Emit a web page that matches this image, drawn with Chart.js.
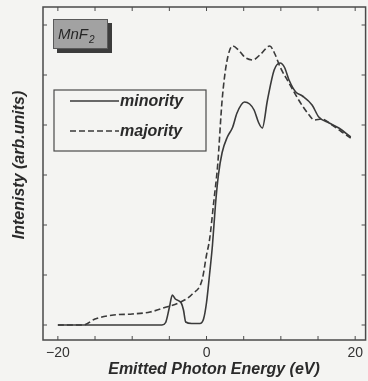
<!DOCTYPE html>
<html>
<head>
<meta charset="utf-8">
<script src="https://cdn.jsdelivr.net/npm/chart.js@4.4.1/dist/chart.umd.min.js"></script>
<style>
  html, body { margin: 0; padding: 0; background: #f4f4f2; }
  #wrap { width: 368px; height: 381px; }
</style>
</head>
<body>
<div id="wrap"><canvas id="spec"></canvas></div>
<script>
// Minority spin spectrum (solid)
const minorityEnergy = [-20, -6.0, -5.5, -5.0, -4.6, -4.2, -3.4, -3.1, -2.8, -2.0, -0.9, -0.4, 0, 0.4, 0.8, 1.2, 1.6, 2.1, 2.8, 3.5, 4.1, 5.1, 5.8, 6.4, 7.0, 7.5, 8.2, 9.1, 9.9, 10.5, 11.1, 12.0, 12.9, 14.2, 15.1, 16.5, 17.8, 19.4];
const minorityIntensity = [0, 0, 0.05, 0.35, 0.6, 0.52, 0.44, 0.3, 0.06, 0.03, 0.03, 0.12, 0.45, 1.0, 1.6, 2.4, 3.0, 3.45, 3.76, 3.95, 4.24, 4.46, 4.42, 4.3, 4.05, 3.94, 4.5, 5.1, 5.24, 5.15, 4.9, 4.66, 4.58, 4.4, 4.16, 4.04, 3.94, 3.76];

// Majority spin spectrum (dashed)
const majorityEnergy = [-20, -16.6, -15, -12.5, -10, -7.6, -5.4, -3.6, -1.9, -0.6, 0, 0.4, 1.0, 1.5, 2.1, 2.7, 3.5, 4.3, 5.2, 6.2, 7.3, 8.5, 9.2, 9.9, 11.1, 12.4, 13.8, 14.5, 15.5, 16.9, 18.2, 19.4];
const majorityIntensity = [0, 0, 0.12, 0.2, 0.22, 0.26, 0.36, 0.45, 0.62, 0.9, 1.4, 1.7, 2.5, 3.2, 4.5, 5.24, 5.58, 5.5, 5.35, 5.3, 5.42, 5.58, 5.42, 5.16, 4.84, 4.5, 4.2, 4.1, 4.12, 4.0, 3.86, 3.74];

const xLabels = [-20, 0, 20];
const yTickValues = [0, 1, 2, 3, 4, 5, 6];

const ink = '#3a3a3a';
const toPoints = (xs, ys) => xs.map((x, i) => ({ x: x, y: ys[i] }));

// Frame, inward ticks, legend, sample label, axis titles
const decor = {
    id: 'decor',
    beforeDraw(chart) {
        const ctx = chart.ctx;
        ctx.save();
        ctx.fillStyle = '#f4f4f2';
        ctx.fillRect(0, 0, chart.width, chart.height);
        ctx.restore();
    },
    afterDraw(chart) {
        const ctx = chart.ctx;
        const a = chart.chartArea;
        const xs = chart.scales.x, ys = chart.scales.y;
        ctx.save();
        ctx.strokeStyle = '#4a4a4a';
        ctx.lineWidth = 1.5;
        ctx.strokeRect(a.left, a.top, a.right - a.left, a.bottom - a.top);

        // ticks
        ctx.lineWidth = 1;
        ctx.beginPath();
        for (let v = -20; v <= 20; v += 5) {
            const px = xs.getPixelForValue(v);
            ctx.moveTo(px, a.bottom); ctx.lineTo(px, a.bottom - 4);
            ctx.moveTo(px, a.top); ctx.lineTo(px, a.top + 4);
        }
        yTickValues.forEach(v => {
            const py = ys.getPixelForValue(v);
            ctx.moveTo(a.left, py); ctx.lineTo(a.left + 4, py);
            ctx.moveTo(a.right, py); ctx.lineTo(a.right - 4, py);
        });
        ctx.stroke();

        // legend
        ctx.strokeStyle = '#4a4a4a';
        ctx.lineWidth = 1.2;
        ctx.strokeRect(54, 90, 152, 61);
        ctx.font = 'italic bold 16px "Liberation Sans"';
        ctx.fillStyle = '#2a2a2a';
        ctx.textBaseline = 'middle';
        chart.data.datasets.forEach((ds, i) => {
            const y = 101 + i * 30;
            ctx.beginPath();
            ctx.strokeStyle = ink;
            ctx.lineWidth = 1.5;
            ctx.setLineDash(ds.borderDash || []);
            ctx.moveTo(70, y); ctx.lineTo(119, y);
            ctx.stroke();
            ctx.setLineDash([]);
            ctx.fillText(ds.label, 120, y + 1);
        });

        // sample label with shadow
        ctx.fillStyle = '#3c3c3c';
        ctx.fillRect(57, 23, 55, 30);
        ctx.fillStyle = '#a2a2a2';
        ctx.fillRect(53, 19, 55, 30);
        ctx.strokeStyle = '#5a5a5a';
        ctx.lineWidth = 1;
        ctx.strokeRect(53.5, 19.5, 54, 29);
        ctx.fillStyle = '#262626';
        ctx.textBaseline = 'alphabetic';
        ctx.font = 'italic 15px "Liberation Sans"';
        ctx.fillText('MnF', 58, 39);
        const w = ctx.measureText('MnF').width;
        ctx.font = 'italic 10px "Liberation Sans"';
        ctx.fillText('2', 58 + w + 1, 43);

        // axis titles
        ctx.fillStyle = '#2a2a2a';
        ctx.font = 'italic bold 16px "Liberation Sans"';
        ctx.textAlign = 'center';
        ctx.textBaseline = 'middle';
        ctx.fillText('Emitted Photon Energy (eV)', 214, 370);
        ctx.translate(20, 165);
        ctx.rotate(-Math.PI / 2);
        ctx.fillText('Intenisty (arb.units)', 0, 0);
        ctx.restore();
    }
};

new Chart(document.getElementById('spec'), {
    type: 'line',
    data: {
        datasets: [{
            label: 'minority',
            data: toPoints(minorityEnergy, minorityIntensity),
            borderColor: ink,
            borderWidth: 1.6,
            pointRadius: 0,
            cubicInterpolationMode: 'monotone',
            fill: false
        }, {
            label: 'majority',
            data: toPoints(majorityEnergy, majorityIntensity),
            borderColor: ink,
            borderWidth: 1.6,
            borderDash: [6, 3],
            pointRadius: 0,
            cubicInterpolationMode: 'monotone',
            fill: false
        }]
    },
    options: {
        responsive: true,
        maintainAspectRatio: false,
        animation: false,
        layout: { padding: { top: 7, right: 1, left: 0, bottom: 0 } },
        plugins: {
            legend: { display: false },
            tooltip: { enabled: false }
        },
        scales: {
            x: {
                type: 'linear',
                min: -22,
                max: 21.4,
                border: { display: false },
                grid: { display: false, drawTicks: false },
                afterBuildTicks(scale) {
                    scale.ticks = xLabels.map(v => ({ value: v }));
                },
                afterFit(scale) { scale.height = 41; },
                ticks: {
                    padding: 5,
                    color: '#333',
                    font: { family: 'Liberation Sans', size: 14 },
                    callback: v => (v < 0 ? '\u2212' + Math.abs(v) : String(v))
                }
            },
            y: {
                type: 'linear',
                min: -0.3,
                max: 6.36,
                border: { display: false },
                grid: { display: false, drawTicks: false },
                ticks: { display: false },
                afterFit(scale) { scale.width = 43; }
            }
        }
    },
    plugins: [decor]
});
</script>
</body>
</html>
